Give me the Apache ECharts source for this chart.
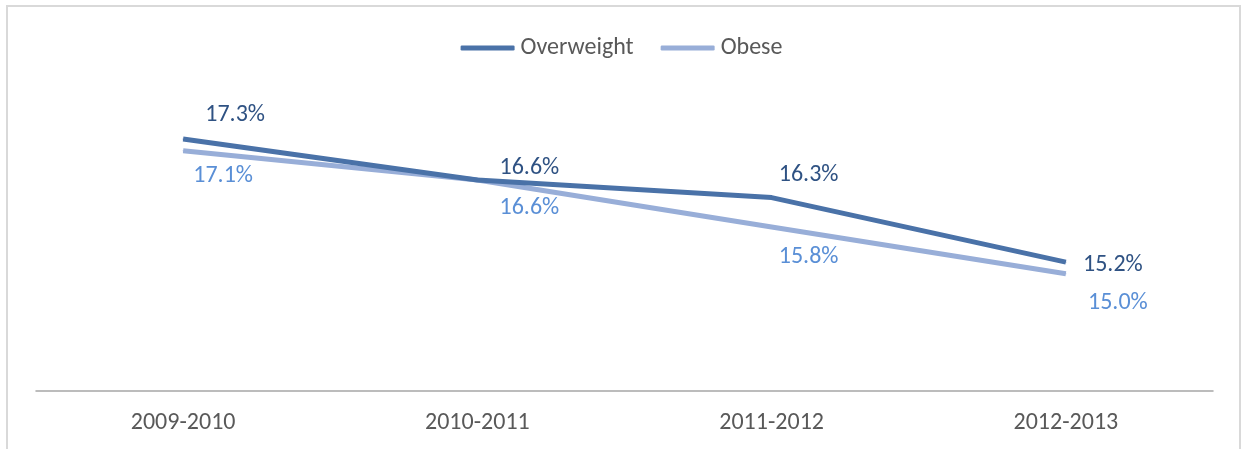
<!DOCTYPE html>
<html><head><meta charset="utf-8">
<script src="https://cdn.jsdelivr.net/npm/echarts@6/dist/echarts.min.js"></script>
<style>
html,body{margin:0;padding:0;background:#fff;}
#frame{position:absolute;left:6px;top:5px;width:1235px;height:460px;border:2px solid #d9d9d9;box-sizing:border-box;}
#c{position:absolute;left:0;top:0;width:1243px;height:449px;}
</style></head>
<body>
<div id="frame"></div>
<div id="c"></div>
<script>
const categories = ['2009-2010','2010-2011','2011-2012','2012-2013'];
const overweight = [17.3, 16.6, 16.3, 15.2];
const obese = [17.1, 16.6, 15.8, 15.0];
const seriesNames = ['Overweight','Obese'];

// label offsets (style only)
const owOffsets = [[52,-24],[52,-12],[37,-23],[47,3]];
const obOffsets = [[40,25],[52,28],[37,30],[52,29]];

const font = "Carlito, 'Liberation Sans', 'Noto Sans', sans-serif";
const FS = 24;
const chart = echarts.init(document.getElementById('c'));
function mk(vals, offs){
  return vals.map((v,i)=>({value:v, label:{offset:offs[i]}}));
}
chart.setOption({
  animation:false,
  legend:{
    top:31, left:'center',
    itemWidth:54, itemHeight:5, itemGap:27,
    icon:'roundRect',
    textStyle:{color:'#595959', fontSize:FS, fontFamily:font, padding:[0,0,0,1]},
    data:seriesNames
  },
  grid:{left:36, right:30, top:98, bottom:58},
  xAxis:{
    type:'category', data:categories, boundaryGap:true,
    axisLine:{lineStyle:{color:'#a6a6a6', width:1.5}},
    axisTick:{show:false},
    axisLabel:{color:'#595959', fontSize:FS, fontFamily:font, margin:20}
  },
  yAxis:{type:'value', min:13, max:18, show:false, splitLine:{show:false}},
  series:[
    {name:seriesNames[0], type:'line', data:mk(overweight, owOffsets),
     symbol:'circle', symbolSize:1, z:3,
     lineStyle:{color:'#4a72a8', width:5}, itemStyle:{color:'#4a72a8'},
     label:{show:true, position:'inside', color:'#2f5283', fontSize:FS, fontFamily:font,
       formatter:p=>p.value.toFixed(1)+'%'}},
    {name:seriesNames[1], type:'line', data:mk(obese, obOffsets),
     symbol:'circle', symbolSize:1, z:2,
     lineStyle:{color:'#98aed8', width:5}, itemStyle:{color:'#98aed8'},
     label:{show:true, position:'inside', color:'#5a8fd6', fontSize:FS, fontFamily:font,
       formatter:p=>p.value.toFixed(1)+'%'}}
  ]
});
</script>
</body></html>
